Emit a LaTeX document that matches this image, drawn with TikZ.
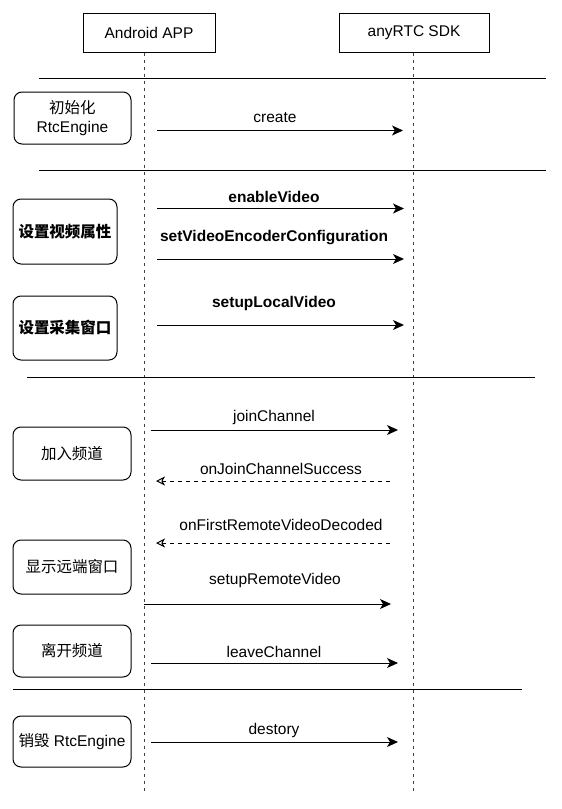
\documentclass[tikz,border=0pt]{standalone}
\usepackage{fontspec}
\setmainfont{Liberation Sans}
\newfontfamily\cjk{Noto Sans CJK SC}
\usetikzlibrary{arrows.meta}
\begin{document}
\begin{tikzpicture}[x=1pt,y=-1pt,
  font=\fontsize{15.5}{18.5}\selectfont,
  actor/.style={draw, line width=1pt, minimum height=39pt, inner sep=0pt},
  phase/.style={draw, line width=1pt, rounded corners=8pt, align=center, inner sep=0pt},
  lifeline/.style={draw=black!75, line width=1pt, dash pattern=on 3.5pt off 3.5pt},
  sepline/.style={line width=1pt},
  msg/.style={line width=1pt, -{Stealth[length=11pt,width=10pt,inset=3pt]}},
  reply/.style={line width=1pt, dash pattern=on 4pt off 4pt, -{Stealth[open,length=9pt,width=9pt,inset=2.5pt]}},
  lbl/.style={inner sep=0pt},
  blbl/.style={inner sep=0pt, font=\fontsize{15.5}{18.5}\selectfont\bfseries}]
\useasboundingbox (0,0) rectangle (562,809);
% actors
\node[actor, minimum width=132pt] (app) at (149,32.5) {Android APP};
\node[actor, minimum width=150pt] (sdk) at (414,32.5) {anyRTC SDK};
\coordinate (appEnd) at (144,793);
\coordinate (sdkEnd) at (413,793);
\draw[lifeline] (app.south -| appEnd) -- (appEnd);
\draw[lifeline] (sdk.south -| sdkEnd) -- (sdkEnd);
% separators
\coordinate (s1a) at (39,78.5); \coordinate (s1b) at (546,78.5);
\coordinate (s2a) at (39,170); \coordinate (s2b) at (546,170);
\coordinate (s3a) at (27,377.5); \coordinate (s3b) at (535,377.5);
\coordinate (s4a) at (13,689); \coordinate (s4b) at (522,689);
\draw[sepline] (s1a) -- (s1b);
\draw[sepline] (s2a) -- (s2b);
\draw[sepline] (s3a) -- (s3b);
\draw[sepline] (s4a) -- (s4b);
% phase boxes
\node[phase, minimum width=117pt, minimum height=52pt] (p1) at (72.5,118) {{\cjk 初始化}\\RtcEngine};
\node[phase, minimum width=104pt, minimum height=65pt] (p2) at (65,231.5) {\cjk\bfseries 设置视频属性};
\node[phase, minimum width=104pt, minimum height=64pt] (p3) at (65,328) {\cjk\bfseries 设置采集窗口};
\node[phase, minimum width=118pt, minimum height=53pt] (p4) at (72,453.5) {\cjk 加入频道};
\node[phase, minimum width=118pt, minimum height=54pt] (p5) at (72,567) {\cjk 显示远端窗口};
\node[phase, minimum width=118pt, minimum height=52pt] (p6) at (72,651) {\cjk 离开频道};
\node[phase, minimum width=118pt, minimum height=51pt] (p7) at (72,741.5) {{\cjk 销毁} RtcEngine};
% messages
\coordinate (m1a) at (157,130.5); \coordinate (m1b) at (403,130.5);
\draw[msg] (m1a) -- (m1b);
\node[lbl] (l1) at (275,118) {create};
\coordinate (m2a) at (157,208.5); \coordinate (m2b) at (404,208.5);
\draw[msg] (m2a) -- (m2b);
\node[blbl] (l2) at (274,197) {enableVideo};
\coordinate (m3a) at (157,259); \coordinate (m3b) at (404,259);
\draw[msg] (m3a) -- (m3b);
\node[blbl] (l3) at (274,237.5) {setVideoEncoderConfiguration};
\coordinate (m4a) at (157,325); \coordinate (m4b) at (404,325);
\draw[msg] (m4a) -- (m4b);
\node[blbl] (l4) at (274,303) {setupLocalVideo};
\coordinate (m5a) at (151,430); \coordinate (m5b) at (398,430);
\draw[msg] (m5a) -- (m5b);
\node[lbl] (l5) at (274,417) {joinChannel};
\coordinate (m6a) at (390,481); \coordinate (m6b) at (156,481);
\draw[reply] (m6a) -- (m6b);
\node[lbl] (l6) at (281,468.5) {onJoinChannelSuccess};
\coordinate (m7a) at (390,543); \coordinate (m7b) at (156,543);
\draw[reply] (m7a) -- (m7b);
\node[lbl] (l7) at (281,525) {onFirstRemoteVideoDecoded};
\coordinate (m8a) at (144,604); \coordinate (m8b) at (391,604);
\draw[msg] (m8a) -- (m8b);
\node[lbl] (l8) at (275,580) {setupRemoteVideo};
\coordinate (m9a) at (151,663); \coordinate (m9b) at (398,663);
\draw[msg] (m9a) -- (m9b);
\node[lbl] (l9) at (274,652) {leaveChannel};
\coordinate (m10a) at (151,742); \coordinate (m10b) at (398,742);
\draw[msg] (m10a) -- (m10b);
\node[lbl] (l10) at (274,730) {destory};
\end{tikzpicture}
\end{document}
